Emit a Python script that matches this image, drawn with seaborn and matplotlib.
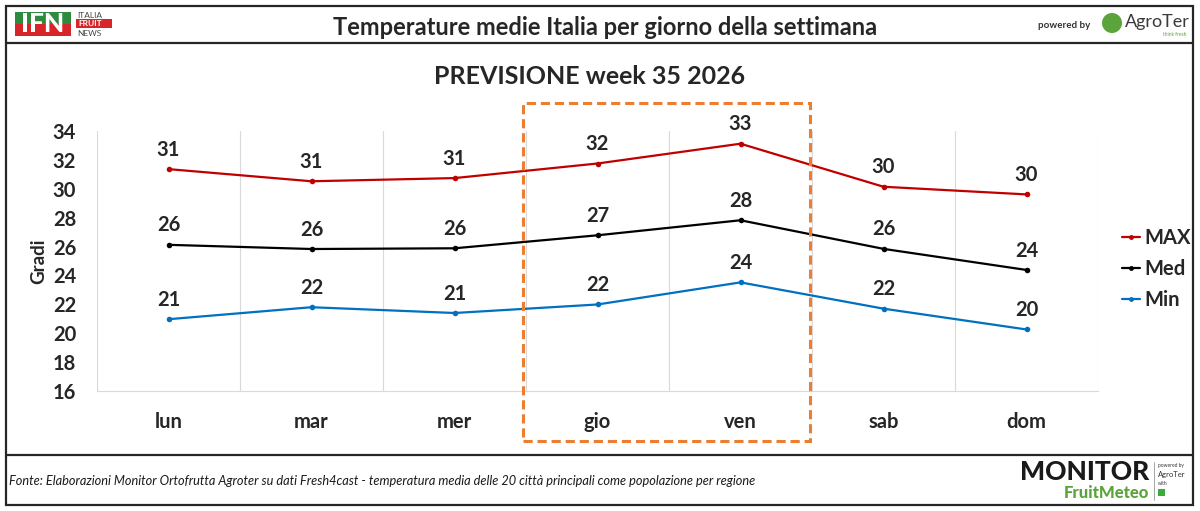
import matplotlib
matplotlib.use("Agg")
import matplotlib.pyplot as plt
from matplotlib.patches import Rectangle, Ellipse
from matplotlib.lines import Line2D
import seaborn as sns
import pandas as pd

days = ["lun", "mar", "mer", "gio", "ven", "sab", "dom"]
t_max = [31.36, 30.52, 30.74, 31.75, 33.12, 30.14, 29.61]
t_med = [26.12, 25.83, 25.88, 26.78, 27.82, 25.84, 24.38]
t_min = [20.97, 21.80, 21.40, 21.99, 23.52, 21.70, 20.26]
series = ["MAX", "Med", "Min"]
colors = {"MAX": "#C00000", "Med": "#000000", "Min": "#0070C0"}

df = pd.DataFrame({
    "giorno": days * 3,
    "x": list(range(len(days))) * 3,
    "valore": t_max + t_med + t_min,
    "serie": [s for s in series for _ in days],
})

sns.set_style("white")
plt.rcParams["font.family"] = ["Lato", "DejaVu Sans"]

W, H = 1200, 511
fig = plt.figure(figsize=(W / 100, H / 100), dpi=100)


def fx(px):
    return px / W


def fy(py):
    return 1 - py / H


ax = fig.add_axes([fx(97), fy(391), fx(1098) - fx(97), fy(131) - fy(391)])
sns.lineplot(data=df, x="x", y="valore", hue="serie", palette=colors,
             marker="o", markersize=4, markeredgewidth=0, linewidth=1.6,
             legend=False, ax=ax)

for s, vals in zip(series, [t_max, t_med, t_min]):
    for i, v in enumerate(vals):
        ax.annotate(f"{v:.0f}", (i, v), xytext=(0, 14), textcoords="offset points",
                    ha="center", va="center", fontsize=14.5, fontweight="bold")

ax.set_xlim(-0.5, len(days) - 0.5)
ax.set_ylim(16, 34)
ax.set_yticks(range(16, 35, 2))
ax.set_xticks(range(len(days)))
ax.set_xticklabels(days)
for b in [i + 0.5 for i in range(-1, len(days))]:
    ax.axvline(b, color="#D9D9D9", lw=0.8, zorder=0)
for sp in ["top", "right", "left"]:
    ax.spines[sp].set_visible(False)
ax.spines["bottom"].set_color("#D9D9D9")
ax.tick_params(axis="both", length=0, labelsize=14.5)
ax.tick_params(axis="x", pad=15)
ax.tick_params(axis="y", pad=15)
for lab in ax.get_xticklabels() + ax.get_yticklabels():
    lab.set_fontweight("bold")
ax.set_xlabel("")
ax.set_ylabel("Gradi", fontsize=13.5, fontweight="bold")
ax.yaxis.set_label_coords((47 - 97) / (1098 - 97), 0.5)

handles = [Line2D([], [], color=colors[s], marker="o", markersize=3.5,
                  markeredgewidth=0, lw=1.6) for s in series]
fig.legend(handles, series, loc="center left", bbox_to_anchor=(fx(1104), fy(269)),
           frameon=False, handlelength=0.9, handletextpad=0.2,
           labelspacing=0.55, prop={"weight": "bold", "size": 14.5})

# cornice e separatori
fig.add_artist(Rectangle((fx(6), fy(505)), fx(1193) - fx(6), fy(6) - fy(505),
                         transform=fig.transFigure, fill=False, ec="#262626", lw=1.6))
for yy in [43, 455]:
    fig.add_artist(Line2D([fx(6), fx(1193)], [fy(yy), fy(yy)], color="#262626", lw=1.6))

# riquadro tratteggiato gio-ven
fig.add_artist(Rectangle((fx(523), fy(441)), fx(810) - fx(523), fy(103) - fy(441),
                         transform=fig.transFigure, fill=False, ec="#ED7D31", lw=2.2,
                         ls=(0, (3, 1.6))))

fig.text(fx(605), fy(27), "Temperature medie Italia per giorno della settimana",
         ha="center", va="center", fontsize=17, fontweight="bold")
fig.text(fx(590), fy(76), "PREVISIONE week 35 2026",
         ha="center", va="center", fontsize=18, fontweight="bold")
fig.text(fx(9), fy(481), "Fonte: Elaborazioni Monitor Ortofrutta Agroter su dati Fresh4cast - "
         "temperatura media delle 20 città principali come popolazione per regione",
         ha="left", va="center", fontsize=9.2, style="italic", color="#1a1a1a")

# logo IFN
fig.add_artist(Rectangle((fx(15), fy(24)), fx(71) - fx(15), fy(12) - fy(24),
                         transform=fig.transFigure, fc="#2E8B3E", ec="none"))
fig.add_artist(Rectangle((fx(15), fy(36)), fx(71) - fx(15), fy(24) - fy(36),
                         transform=fig.transFigure, fc="#D7262A", ec="none"))
fig.text(fx(43), fy(24.5), "IFN", ha="center", va="center", fontsize=19,
         fontweight="black", color="white")
fig.text(fx(77), fy(15), "ITALIA", ha="left", va="center", fontsize=6, color="#444444")
fig.add_artist(Rectangle((fx(76), fy(28)), fx(112) - fx(76), fy(19) - fy(28),
                         transform=fig.transFigure, fc="#D7262A", ec="none"))
fig.text(fx(78), fy(23.5), "FRUIT", ha="left", va="center", fontsize=6, color="white",
         fontweight="bold")
fig.text(fx(77), fy(33), "NEWS", ha="left", va="center", fontsize=6, color="#444444")

# logo AgroTer
fig.text(fx(1090), fy(26), "powered by", ha="right", va="center", fontsize=7,
         fontweight="bold", color="#333333")
fig.add_artist(Ellipse((fx(1112), fy(23)), 20 / W, 20 / H, transform=fig.transFigure,
                       fc="#5BA33B", ec="none"))
fig.text(fx(1125), fy(22), "AgroTer", ha="left", va="center", fontsize=13, color="#3a3a3a")
fig.text(fx(1186), fy(34), "think fresh", ha="right", va="center", fontsize=3.5,
         color="#5BA33B")

# logo Monitor FruitMeteo
fig.text(fx(1020), fy(472), "MONITOR", ha="left", va="center", fontsize=19,
         fontweight="black", color="#1a1a1a")
fig.text(fx(1149), fy(493), "FruitMeteo", ha="right", va="center", fontsize=12,
         fontweight="black", color="#5BA33B")
fig.add_artist(Line2D([fx(1154), fx(1154)], [fy(462), fy(500)], color="#999999", lw=0.6))
fig.text(fx(1158), fy(465), "powered by", ha="left", va="center", fontsize=3.5, color="#333333")
fig.text(fx(1158), fy(474), "AgroTer", ha="left", va="center", fontsize=5.5, color="#333333")
fig.text(fx(1158), fy(483), "with", ha="left", va="center", fontsize=3.5, color="#333333")
fig.add_artist(Rectangle((fx(1158), fy(496)), fx(1165) - fx(1158), fy(489) - fy(496),
                         transform=fig.transFigure, fc="#3DAA3D", ec="none"))

fig.savefig("out.png", dpi=100)
